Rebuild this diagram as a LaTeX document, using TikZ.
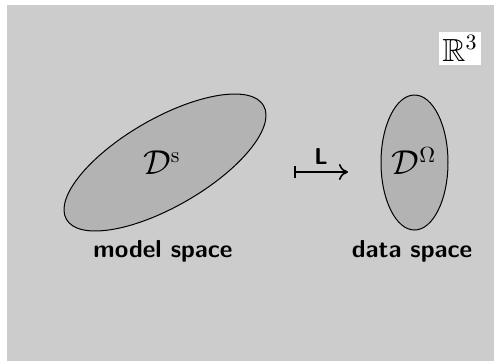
\documentclass[tikz,border=0pt]{standalone}
\usepackage{amssymb}
\usetikzlibrary{shapes.geometric,arrows.meta}
\definecolor{bg}{HTML}{CCCCCC}
\definecolor{blob}{HTML}{B3B3B3}
\begin{document}
\begin{tikzpicture}[x=0.5pt,y=-0.5pt,
  region/.style={ellipse,draw=black,fill=blob,line width=0.5pt,inner sep=0pt},
  caption/.style={font=\sffamily\bfseries\fontsize{12.3}{14}\selectfont},
  mathlbl/.style={font=\fontsize{16}{18}\selectfont}]
\useasboundingbox (0,0) rectangle (494,361);
\fill[white] (0,0) rectangle (494,361);
\fill[bg] (7,5) rectangle (494,361);
\node[region,rotate=30,minimum width=113.8pt,minimum height=44pt] (model) at (165,162.5) {};
\node[region,minimum width=33.5pt,minimum height=67.5pt] (data) at (414.5,162.5) {};
\node[mathlbl] (ds) at (162,163) {$\mathcal{D}^{\mathrm{s}}$};
\node[mathlbl] (dom) at (414,161) {$\mathcal{D}^{\Omega}$};
\node[caption] (mcap) at (163,251) {model space};
\node[caption] (dcap) at (412,251) {data space};
\node[fill=white,inner sep=1.5pt,mathlbl] (r3) at (460,48.5) {$\mathbb{R}^3$};
\coordinate (a) at (294,172);
\coordinate (b) at (348,172);
\draw[{Bar[width=6pt]}-{To[length=4.5pt,width=8pt]},line width=0.8pt] (a) -- (b);
\node[font=\sffamily\bfseries\fontsize{11.5}{13}\selectfont] (L) at (321,157) {L};
\end{tikzpicture}
\end{document}
